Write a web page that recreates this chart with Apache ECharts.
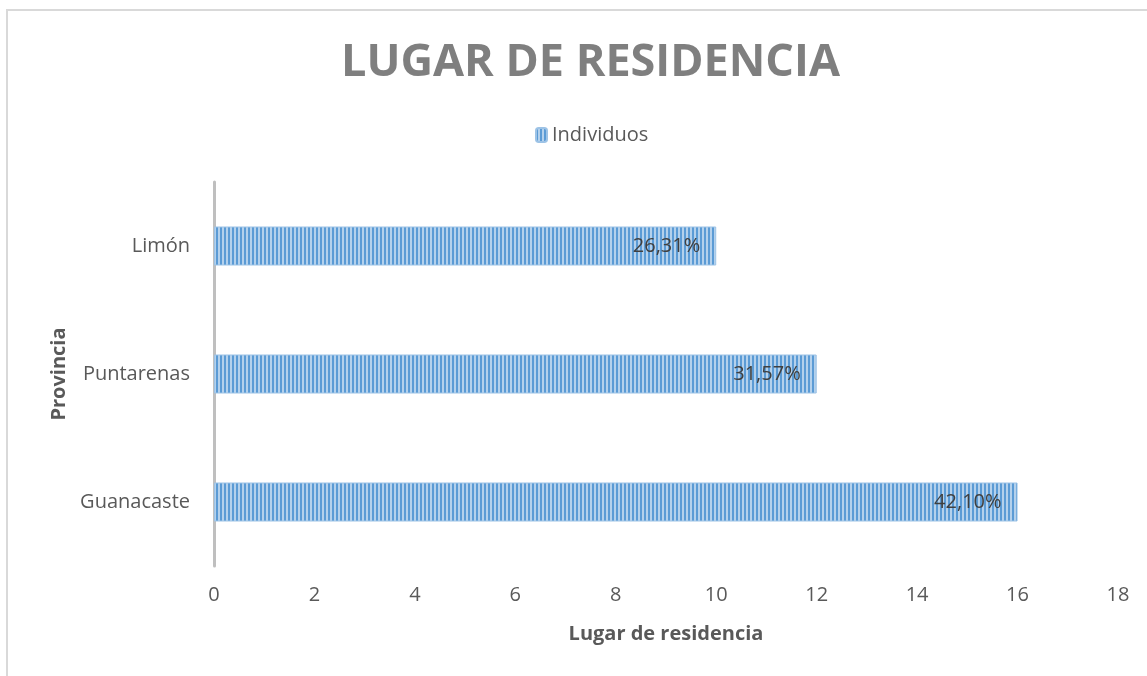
<!DOCTYPE html>
<html>
<head>
<meta charset="utf-8">
<script src="https://cdn.jsdelivr.net/npm/echarts@6/dist/echarts.min.js"></script>
<style>
  html, body { margin: 0; padding: 0; background: #fff; }
  #chart { width: 1147px; height: 676px; }
</style>
</head>
<body>
<div id="chart"></div>
<script>
// data
const provincias = ["Guanacaste", "Puntarenas", "Limón"];
const individuos = [16, 12, 10];
const porcentajes = ["42,10%", "31,57%", "26,31%"];
const xTicks = [0, 2, 4, 6, 8, 10, 12, 14, 16, 18];

// vertical stripe fill, like the office pattern fill
const makeStripes = () => {
  const c = document.createElement("canvas");
  c.width = 4;
  c.height = 4;
  const ctx = c.getContext("2d");
  ctx.fillStyle = "#b4d1ec";
  ctx.fillRect(0, 0, 4, 4);
  ctx.fillStyle = "#5b9bd5";
  ctx.fillRect(0, 0, 2, 4);
  return c;
};
const stripes = { image: makeStripes(), repeat: "repeat" };

const font = "'Open Sans', 'Noto Sans', sans-serif";
const chart = echarts.init(document.getElementById("chart"));

chart.setOption({
  animation: false,
  textStyle: { fontFamily: font },
  title: {
    text: "LUGAR DE RESIDENCIA",
    left: 336,
    top: 36,
    textStyle: { fontSize: 45, fontWeight: "bold", color: "#7f7f7f", fontFamily: font }
  },
  legend: {
    data: ["Individuos"],
    top: 120,
    left: 530,
    itemWidth: 11,
    itemHeight: 14,
    itemGap: 4,
    textStyle: { fontSize: 20, color: "#595959", fontFamily: font }
  },
  graphic: [
    {
      type: "rect",
      shape: { x: 7, y: 10, width: 1200, height: 700 },
      style: { fill: "none", stroke: "#d9d9d9", lineWidth: 2 },
      silent: true
    }
  ],
  grid: { left: 214, right: 29, top: 182, bottom: 110 },
  xAxis: {
    type: "value",
    min: 0,
    max: 18,
    interval: 2,
    name: "Lugar de residencia",
    nameLocation: "middle",
    nameGap: 58,
    nameTextStyle: { fontSize: 20, fontWeight: "bold", color: "#595959" },
    axisLine: { show: false },
    axisTick: { show: false },
    splitLine: { show: false },
    axisLabel: {
      fontSize: 20,
      color: "#595959",
      margin: 19,
      formatter: v => (xTicks.includes(v) ? String(v) : "")
    }
  },
  yAxis: {
    type: "category",
    data: provincias,
    name: "Provincia",
    nameLocation: "middle",
    nameGap: 144,
    nameRotate: 90,
    nameTextStyle: { fontSize: 20, fontWeight: "bold", color: "#595959" },
    axisLine: { show: true, lineStyle: { color: "#bfbfbf", width: 3 } },
    axisTick: { show: false },
    axisLabel: { fontSize: 20, color: "#595959", margin: 24 }
  },
  series: [
    {
      name: "Individuos",
      type: "bar",
      data: individuos,
      barWidth: 39,
      itemStyle: { color: stripes, borderColor: "#9dc3e6", borderWidth: 1 },
      label: {
        show: true,
        position: "insideRight",
        distance: 16,
        fontSize: 20,
        color: "#404040",
        formatter: p => porcentajes[p.dataIndex]
      }
    }
  ]
});
</script>
</body>
</html>
